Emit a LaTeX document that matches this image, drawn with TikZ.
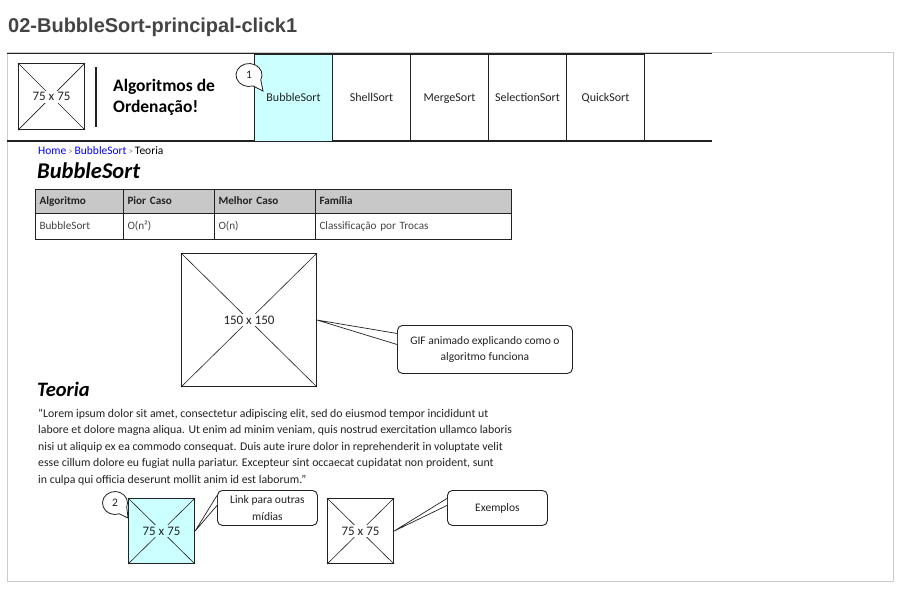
\documentclass[tikz,border=0pt]{standalone}
\usepackage{fontspec}
\setmainfont{Carlito}
\newfontfamily\titlefont{Liberation Sans}
\definecolor{ink}{HTML}{222222}
\definecolor{framec}{HTML}{CCCCCC}
\definecolor{titlec}{HTML}{444444}
\definecolor{cyanfill}{HTML}{CCFFFF}
\definecolor{hdrfill}{HTML}{C8C8C8}
\definecolor{linkblue}{HTML}{0000FF}
\definecolor{sepgray}{HTML}{888888}
\begin{document}
\begin{tikzpicture}[x=1pt,y=-1pt,
  ph/.style={draw=ink, line width=1.1pt, inner sep=0pt, anchor=north west},
  diag/.style={draw=ink, line width=0.6pt},
  phlabel/.style={fill=white, inner sep=1pt, text height=9pt, text depth=1pt, font=\fontsize{13}{15}\selectfont, text=ink},
  tabbox/.style={draw=ink, line width=1.1pt, anchor=north west, minimum width=78pt, minimum height=87pt, inner sep=0pt, text height=8.5pt, text depth=2.5pt, font=\fontsize{12}{14}\selectfont, text=ink},
  callbox/.style={draw=ink, line width=0.9pt, rounded corners=5pt, fill=white, anchor=north west, align=center, inner sep=0pt, font=\fontsize{11.5}{16.5}\selectfont, text=ink},
  tail/.style={draw=ink, line width=0.7pt, fill=white},
  bubble/.style={draw=ink, line width=0.8pt, fill=white},
  cell/.style={draw=ink, line width=1pt, anchor=north west, inner xsep=4pt, inner ysep=0pt, text height=8pt, text depth=2.5pt, align=left, font=\fontsize{11.2}{12}\selectfont, text=ink},
  bodytext/.style={anchor=base west, inner sep=0pt, font=\fontsize{11.8}{13}\selectfont, text=ink},
  heading/.style={anchor=base west, inner sep=0pt, font=\fontsize{22.5}{26}\selectfont\bfseries\itshape, text=black}
]
\useasboundingbox (0,0) rectangle (902,606);
\fill[white] (0,0) rectangle (902,606);

% title
\node[anchor=base west, inner sep=0pt, font=\titlefont\fontsize{20}{24}\selectfont\bfseries, text=titlec] (title) at (8,32) {02-BubbleSort-principal-click1};

% outer frame
\draw[framec, line width=1pt] (7,52) rectangle (893,581);

% header bar
\draw[ink, line width=1.3pt] (7,53.5) -- (712,53.5);
\draw[ink, line width=1.3pt] (7,141) -- (712,141);

% logo
\node[ph, minimum width=66pt, minimum height=66pt] (logo) at (18,63) {};
\draw[diag] (logo.north west) -- (logo.south east);
\draw[diag] (logo.north east) -- (logo.south west);
\node[phlabel] (logol) at (logo.center) {75 x 75};

\draw[ink, line width=1.1pt] (96,67) -- (96,127);

\node[anchor=west, align=left, inner sep=0pt, font=\fontsize{17.5}{21}\selectfont\bfseries, text=black] (brand) at (113,97.5) {Algoritmos de\\Ordenação!};

% tabs
\node[tabbox, fill=cyanfill] (tab1) at (254,54) {BubbleSort};
\node[tabbox] (tab2) at (332,54) {ShellSort};
\node[tabbox] (tab3) at (410,54) {MergeSort};
\node[tabbox] (tab4) at (488,54) {SelectionSort};
\node[tabbox] (tab5) at (566,54) {QuickSort};

% callout 1
\draw[bubble] (263,91) -- ([shift={(249,75)}]72:13 and 11.5) arc[start angle=72, end angle=385, x radius=13, y radius=11.5] -- cycle;
\node[font=\fontsize{11.5}{13}\selectfont, text=ink, inner sep=0pt] (c1) at (249,75) {1};

% breadcrumb
\node[anchor=base west, inner sep=0pt, font=\fontsize{11.5}{13}\selectfont] (crumb) at (38,154)
  {\textcolor{linkblue}{Home}\,\textcolor{sepgray}{\fontsize{9}{9}\selectfont >}\,\textcolor{linkblue}{BubbleSort}\,\textcolor{sepgray}{\fontsize{9}{9}\selectfont >}\,\textcolor{black}{Teoria}};

% heading
\node[heading] (h1) at (37,178) {BubbleSort};

% table
\node[cell, fill=hdrfill, minimum width=88pt, text width=80pt, minimum height=24pt] (th1) at (35,189) {\bfseries Algoritmo};
\node[cell, fill=hdrfill, minimum width=91pt, text width=83pt, minimum height=24pt] (th2) at (123,189) {\bfseries Pior Caso};
\node[cell, fill=hdrfill, minimum width=101pt, text width=93pt, minimum height=24pt] (th3) at (214,189) {\bfseries Melhor Caso};
\node[cell, fill=hdrfill, minimum width=196pt, text width=188pt, minimum height=24pt] (th4) at (315,189) {\bfseries Família};
\node[cell, minimum width=88pt, text width=80pt, minimum height=26pt, text=titlec] (td1) at (35,213) {BubbleSort};
\node[cell, minimum width=91pt, text width=83pt, minimum height=26pt, text=titlec] (td2) at (123,213) {O(n²)};
\node[cell, minimum width=101pt, text width=93pt, minimum height=26pt, text=titlec] (td3) at (214,213) {O(n)};
\node[cell, minimum width=196pt, text width=188pt, minimum height=26pt, text=titlec] (td4) at (315,213) {Classificação por Trocas};

% big image
\node[ph, minimum width=135pt, minimum height=133pt] (big) at (181,253) {};
\draw[diag] (big.north west) -- (big.south east);
\draw[diag] (big.north east) -- (big.south west);
\node[phlabel] (bigl) at (big.center) {150 x 150};

% GIF callout
\node[callbox, minimum width=175pt, minimum height=48pt] (gif) at (397,325) {GIF animado explicando como o\\algoritmo funciona};
\draw[tail] ([yshift=16pt]gif.west) -- (big.east) -- ([yshift=5pt]gif.west);

% Teoria
\node[heading, font=\fontsize{20.5}{24}\selectfont\bfseries\itshape] (h2) at (37,396) {Teoria};
\node[bodytext] (p1) at (38,417) {"Lorem ipsum dolor sit amet, consectetur adipiscing elit, sed do eiusmod tempor incididunt ut};
\node[bodytext] (p2) at (38,433.5) {labore et dolore magna aliqua. Ut enim ad minim veniam, quis nostrud exercitation ullamco laboris};
\node[bodytext] (p3) at (38,450) {nisi ut aliquip ex ea commodo consequat. Duis aute irure dolor in reprehenderit in voluptate velit};
\node[bodytext] (p4) at (38,466.5) {esse cillum dolore eu fugiat nulla pariatur. Excepteur sint occaecat cupidatat non proident, sunt};
\node[bodytext] (p5) at (38,483) {in culpa qui officia deserunt mollit anim id est laborum."};

% bottom images
\node[ph, fill=cyanfill, minimum width=66pt, minimum height=65pt] (img2) at (128,498) {};
\draw[diag] (img2.north west) -- (img2.south east);
\draw[diag] (img2.north east) -- (img2.south west);
\node[phlabel, fill=cyanfill] (img2l) at (img2.center) {75 x 75};

\node[ph, minimum width=66pt, minimum height=65pt] (img3) at (327,498) {};
\draw[diag] (img3.north west) -- (img3.south east);
\draw[diag] (img3.north east) -- (img3.south west);
\node[phlabel] (img3l) at (img3.center) {75 x 75};

% callout 2
\draw[bubble] (128,518) -- ([shift={(115,503)}]70:12.5 and 11.5) arc[start angle=70, end angle=380, x radius=12.5, y radius=11.5] -- cycle;
\node[font=\fontsize{11.5}{13}\selectfont, text=ink, inner sep=0pt] (c2) at (115,503) {2};

% link callout
\node[callbox, minimum width=100pt, minimum height=35pt] (link) at (217,490) {Link para outras\\mídias};
\draw[tail] ([yshift=12.5pt]link.west) -- (img2.east) -- ([yshift=2.5pt]link.west);

% exemplos callout
\node[callbox, minimum width=100pt, minimum height=35pt] (ex) at (447,490) {Exemplos};
\draw[tail] ([yshift=9.5pt]ex.west) -- (img3.east) -- ([yshift=2.5pt]ex.west);
\end{tikzpicture}
\end{document}
